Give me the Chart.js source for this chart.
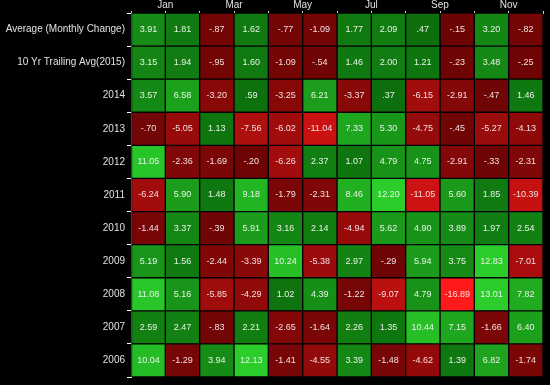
<!DOCTYPE html>
<html>
<head>
<meta charset="utf-8">
<script src="https://cdn.jsdelivr.net/npm/chart.js@4.4.1/dist/chart.umd.min.js"></script>
<style>
  html, body { margin: 0; padding: 0; background: #000; }
  #wrap { width: 550px; height: 385px; }
</style>
</head>
<body>
<div id="wrap"><canvas id="myChart"></canvas></div>
<script>
var months = ['Jan', 'Feb', 'Mar', 'Apr', 'May', 'Jun', 'Jul', 'Aug', 'Sep', 'Oct', 'Nov', 'Dec'];
var rowNames = ['Average (Monthly Change)', '10 Yr Trailing Avg(2015)', '2014', '2013', '2012',
    '2011', '2010', '2009', '2008', '2007', '2006'];

var avgChange = [3.91, 1.81, -0.87, 1.62, -0.77, -1.09, 1.77, 2.09, 0.47, -0.15, 3.20, -0.82];
var trailing10 = [3.15, 1.94, -0.95, 1.60, -1.09, -0.54, 1.46, 2.00, 1.21, -0.23, 3.48, -0.25];
var y2014 = [3.57, 6.58, -3.20, 0.59, -3.25, 6.21, -3.37, 0.37, -6.15, -2.91, -0.47, 1.46];
var y2013 = [-0.70, -5.05, 1.13, -7.56, -6.02, -11.04, 7.33, 5.30, -4.75, -0.45, -5.27, -4.13];
var y2012 = [11.05, -2.36, -1.69, -0.20, -6.26, 2.37, 1.07, 4.79, 4.75, -2.91, -0.33, -2.31];
var y2011 = [-6.24, 5.90, 1.48, 9.18, -1.79, -2.31, 8.46, 12.20, -11.05, 5.60, 1.85, -10.39];
var y2010 = [-1.44, 3.37, -0.39, 5.91, 3.16, 2.14, -4.94, 5.62, 4.90, 3.89, 1.97, 2.54];
var y2009 = [5.19, 1.56, -2.44, -3.39, 10.24, -5.38, 2.97, -0.29, 5.94, 3.75, 12.83, -7.01];
var y2008 = [11.08, 5.16, -5.85, -4.29, 1.02, 4.39, -1.22, -9.07, 4.79, -16.89, 13.01, 7.82];
var y2007 = [2.59, 2.47, -0.83, 2.21, -2.65, -1.64, 2.26, 1.35, 10.44, 7.15, -1.66, 6.40];
var y2006 = [10.04, -1.29, 3.94, 12.13, -1.41, -4.55, 3.39, -1.48, -4.62, 1.39, 6.82, -1.74];

var table = [avgChange, trailing10, y2014, y2013, y2012, y2011, y2010, y2009, y2008, y2007, y2006];

function cellColor(v) {
    var t;
    if (v >= 0) {
        t = Math.min(v / 12, 1);
        var g = Math.round(108 + 97 * t);
        var rb = Math.round(12 + 30 * t);
        return 'rgb(' + rb + ',' + g + ',' + rb + ')';
    }
    t = Math.min(-v / 17, 1);
    var r = Math.round(108 + 147 * t);
    var gb = Math.round(4 + 22 * t);
    return 'rgb(' + r + ',' + gb + ',' + gb + ')';
}

function fmt(v) {
    return v.toFixed(2).replace(/^(-?)0\./, '$1.');
}

// one dataset per month, each cell is a floating bar [m, m+1]
var datasets = months.map(function (name, m) {
    return {
        label: name,
        data: rowNames.map(function () { return [m, m + 1]; }),
        backgroundColor: table.map(function (row) { return cellColor(row[m]); }),
        borderColor: '#000',
        borderWidth: 1,
        borderSkipped: false,
        grouped: false,
        barPercentage: 1,
        categoryPercentage: 1
    };
});

var cellText = {
    id: 'cellText',
    afterDatasetsDraw: function (chart) {
        var ctx = chart.ctx;
        ctx.save();
        ctx.font = '9px "Liberation Sans", Arial, sans-serif';
        ctx.textAlign = 'center';
        ctx.textBaseline = 'middle';
        chart.data.datasets.forEach(function (ds, m) {
            chart.getDatasetMeta(m).data.forEach(function (el, r) {
                var v = table[r][m];
                ctx.fillStyle = v < 0 ? '#f2dede' : '#e6f2e6';
                ctx.fillText(fmt(v), (el.x + el.base) / 2, el.y);
            });
        });
        ctx.restore();
    }
};

var ctx = document.getElementById('myChart').getContext('2d');
var chart = new Chart(ctx, {
    type: 'bar',
    data: {
        labels: rowNames,
        datasets: datasets
    },
    options: {
        indexAxis: 'y',
        responsive: true,
        maintainAspectRatio: false,
        animation: false,
        layout: { padding: { left: 0, right: 7, top: 0, bottom: 7 } },
        plugins: {
            legend: { display: false },
            tooltip: { enabled: false }
        },
        scales: {
            x: {
                type: 'linear',
                position: 'top',
                min: 0,
                max: 12,
                afterFit: function (scale) { scale.height = 13; },
                ticks: {
                    stepSize: 1,
                    autoSkip: false,
                    maxRotation: 0,
                    padding: 0,
                    color: '#e0e0e0',
                    font: { size: 10, family: '"Liberation Sans", Arial, sans-serif' },
                    callback: function (v) { return v % 2 === 1 ? months[v - 1] : ''; }
                },
                grid: { drawOnChartArea: false, color: '#cfcfcf', tickLength: 2 },
                border: { color: '#cfcfcf', width: 1 }
            },
            y: {
                type: 'category',
                offset: true,
                afterFit: function (scale) { scale.width = 131; },
                ticks: {
                    color: '#e0e0e0',
                    padding: 2,
                    font: { size: 10, family: '"Liberation Sans", Arial, sans-serif' }
                },
                grid: { drawOnChartArea: false, offset: true, color: '#ffffff', tickLength: 4 },
                border: { color: '#cfcfcf', width: 1 }
            }
        }
    },
    plugins: [cellText]
});
</script>
</body>
</html>
